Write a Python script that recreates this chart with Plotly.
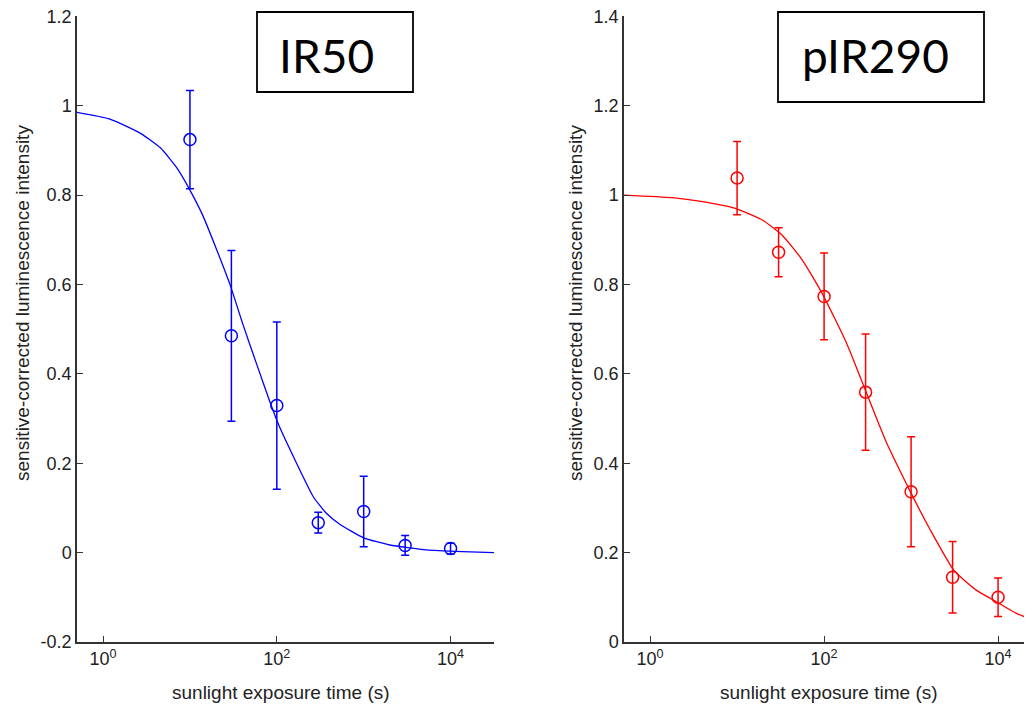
import plotly.graph_objects as go

# ---------------- data ----------------
exposure_s = [10, 30, 100, 300, 1000, 3000, 10000]

ir50_mean = [0.924, 0.485, 0.329, 0.067, 0.092, 0.016, 0.009]
ir50_err = [0.110, 0.191, 0.187, 0.023, 0.079, 0.022, 0.012]

pir290_mean = [1.038, 0.872, 0.773, 0.559, 0.336, 0.145, 0.100]
pir290_err = [0.082, 0.055, 0.097, 0.130, 0.123, 0.080, 0.043]

# fitted curves
ir50_fit_t = [0.5, 1.2, 2.7, 4.6, 7.1, 10, 14, 20, 29, 41, 59, 83, 105, 155, 263,
              372, 525, 1000, 2000, 5250, 13800, 31600]
ir50_fit_y = [0.985, 0.970, 0.938, 0.905, 0.860, 0.811, 0.755, 0.681, 0.599,
              0.509, 0.420, 0.338, 0.286, 0.215, 0.125, 0.088, 0.064, 0.033,
              0.017, 0.006, 0.002, 0.0]

pir290_fit_t = [0.48, 1.8, 4.0, 9.5, 19.5, 33, 56, 95, 182, 309, 525, 977, 1660,
                3090, 5620, 9550, 16200, 31600]
pir290_fit_y = [1.0, 0.994, 0.985, 0.970, 0.944, 0.910, 0.855, 0.780, 0.668,
                0.556, 0.445, 0.337, 0.251, 0.161, 0.116, 0.090, 0.064, 0.043]

x_tickvals = [1, 100, 10000]
x_ticktext = ["10<sup>0</sup>", "10<sup>2</sup>", "10<sup>4</sup>"]

ir50_y_tickvals = [-0.2, 0, 0.2, 0.4, 0.6, 0.8, 1.0, 1.2]
ir50_y_ticktext = ["-0.2", "0", "0.2", "0.4", "0.6", "0.8", "1", "1.2"]
pir290_y_tickvals = [0, 0.2, 0.4, 0.6, 0.8, 1.0, 1.2, 1.4]
pir290_y_ticktext = ["0", "0.2", "0.4", "0.6", "0.8", "1", "1.2", "1.4"]

panel_titles = ["IR50", "pIR290"]
x_title = "sunlight exposure time (s)"
y_title = "sensitive-corrected luminescence intensity"

# ---------------- figure ----------------
# page body has an 8px margin: figure spans screen px 8..1032 / 8..708
OFF = 8
W, H = 1024, 700
BLUE = "#0000FF"
RED = "#FF0000"
AXC = "#333333"
FONT = "Liberation Sans, Arial, sans-serif"


def px_x(p):
    return (p - OFF) / W


def px_y(p):
    return 1 - (p - OFF) / H


fig = go.Figure()

for (mean, err, ft, fy, color, xa, ya) in [
    (ir50_mean, ir50_err, ir50_fit_t, ir50_fit_y, BLUE, "x", "y"),
    (pir290_mean, pir290_err, pir290_fit_t, pir290_fit_y, RED, "x2", "y2"),
]:
    fig.add_trace(go.Scatter(
        x=ft, y=fy, mode="lines",
        line=dict(color=color, width=1.3, shape="spline", smoothing=0.5),
        xaxis=xa, yaxis=ya, showlegend=False, hoverinfo="skip"))
    fig.add_trace(go.Scatter(
        x=exposure_s, y=mean, mode="markers",
        marker=dict(symbol="circle-open", size=12, color=color, line=dict(width=1.5, color=color)),
        error_y=dict(type="data", array=err, visible=True, color=color, thickness=1.5, width=4),
        xaxis=xa, yaxis=ya, showlegend=False))

common_x = dict(type="log", showgrid=False, zeroline=False, showline=True, linecolor=AXC,
                linewidth=1.5, ticks="inside", ticklen=6, tickwidth=1.2, tickcolor=AXC,
                tickvals=x_tickvals, ticktext=x_ticktext, ticklabeloverflow="allow",
                tickfont=dict(family=FONT, size=18, color="#222222"), automargin=False)
common_y = dict(showgrid=False, zeroline=False, showline=True, linecolor=AXC, linewidth=1.5,
                ticks="inside", ticklen=6, tickwidth=1.2, tickcolor=AXC,
                ticklabeloverflow="allow",
                tickfont=dict(family=FONT, size=18, color="#222222"), automargin=False)

y_dom = [px_y(642), px_y(16)]

fig.update_layout(
    width=W, height=H,
    margin=dict(l=0, r=0, t=0, b=0),
    paper_bgcolor="white", plot_bgcolor="white",
    xaxis=dict(common_x, domain=[px_x(77), px_x(494)], range=[-0.3, 4.5], anchor="y"),
    yaxis=dict(common_y, domain=y_dom, range=[-0.2, 1.2005], anchor="x",
               tickvals=ir50_y_tickvals, ticktext=ir50_y_ticktext),
    xaxis2=dict(common_x, domain=[px_x(624), 1.0], range=[-0.3, 4.39], anchor="y2"),
    yaxis2=dict(common_y, domain=y_dom, range=[0, 1.4005], anchor="x2",
                tickvals=pir290_y_tickvals, ticktext=pir290_y_ticktext),
)

# title boxes
boxes = [(257, 12, 413, 92, 326.5), (778, 12, 984, 102, 875)]
for (x0, y0, x1, y1, tx), title in zip(boxes, panel_titles):
    fig.add_shape(type="rect", xref="paper", yref="paper",
                  x0=px_x(x0), x1=px_x(x1), y0=px_y(y1), y1=px_y(y0),
                  line=dict(color="black", width=1.8), fillcolor="rgba(0,0,0,0)")
    fig.add_annotation(x=px_x(tx), y=px_y(55), xref="paper", yref="paper",
                       text=title, showarrow=False, xanchor="center", yanchor="middle",
                       font=dict(family="Lato, Noto Sans, sans-serif", size=46, color="black"))

# axis titles
for cx in [281, 829]:
    fig.add_annotation(x=px_x(cx), y=px_y(692), xref="paper", yref="paper",
                       text=x_title, showarrow=False, xanchor="center", yanchor="middle",
                       font=dict(family=FONT, size=19, color="#222222"))
for cx in [22, 575]:
    fig.add_annotation(x=px_x(cx), y=px_y(303), xref="paper", yref="paper",
                       text=y_title, showarrow=False, textangle=-90,
                       xanchor="center", yanchor="middle",
                       font=dict(family=FONT, size=19, color="#222222"))

fig.write_html("out.html")
